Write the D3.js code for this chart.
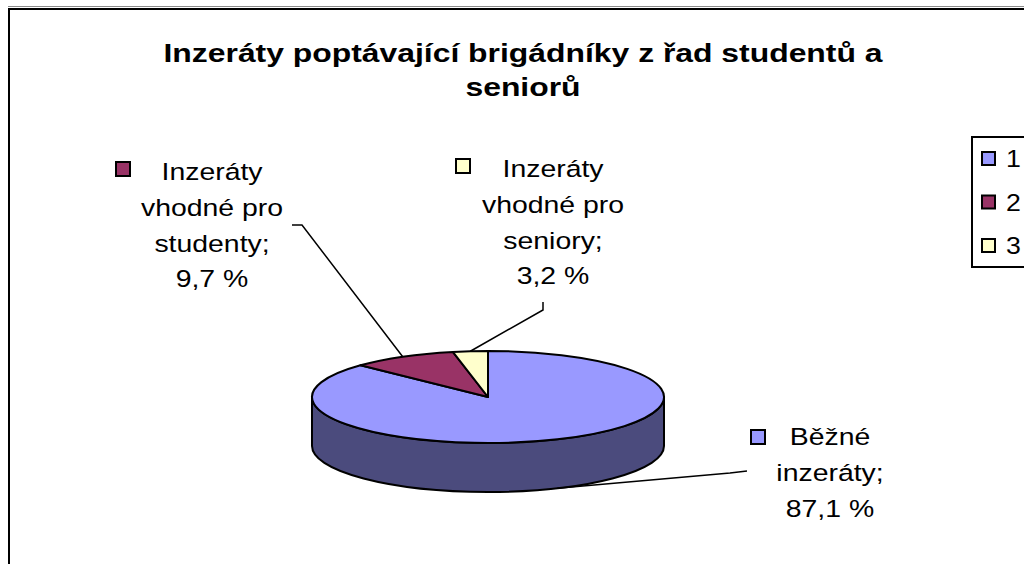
<!DOCTYPE html>
<html>
<head>
<meta charset="utf-8">
<script src="https://cdn.jsdelivr.net/npm/d3@7"></script>
<style>
  body { margin: 0; background: #fff; }
  text { font-family: "Liberation Sans", Arial, sans-serif; fill: #000; }
</style>
</head>
<body>
<div id="chart"></div>
<script>
// chart data
var titleLines = ["Inzeráty poptávající brigádníky z řad studentů a", "seniorů"];
var categoryLines = [["Běžné", "inzeráty;"], ["Inzeráty", "vhodné pro", "studenty;"], ["Inzeráty", "vhodné pro", "seniory;"]];
var values = [87.1, 9.7, 3.2];
var legendLabels = ["1", "2", "3"];
var colors = ["#9999FF", "#993366", "#FFFFCC"];

var width = 1024, height = 564;

// pie geometry (Excel style tilted disc)
var cx = 488, cy = 397, rx = 176, ry = 46, depth = 49;

// where Excel put the data labels (label centre, first baseline, key box, leader elbow)
var labelPos = [
  { x: 830, y: 445, key: [751, 430], leader: [[730, 473], [747, 471]] },
  { x: 212, y: 180, key: [116, 162], leader: [[302, 225], [292, 225]] },
  { x: 553, y: 177, key: [456, 159], leader: [[543, 310], [543, 302]] }
];

var svg = d3.select("#chart")
  .append("svg")
    .attr("width", width)
    .attr("height", height);

// frame
svg.append("line")
    .attr("x1", 8).attr("x2", width)
    .attr("y1", 6.5).attr("y2", 6.5)
    .style("stroke", "#8a8a8a")
    .style("stroke-width", 1);
svg.append("rect")
    .attr("x", 9).attr("y", 9)
    .attr("width", width + 20).attr("height", height + 20)
    .style("fill", "none")
    .style("stroke", "#000")
    .style("stroke-width", 2);

// title
svg.append("g")
  .selectAll("text")
  .data(titleLines)
  .enter()
  .append("text")
    .attr("transform", function(d, i) { return "translate(523," + (62 + i * 34) + ") scale(1.25,1)"; })
    .attr("text-anchor", "middle")
    .style("font-size", "25.5px")
    .style("font-weight", "bold")
    .text(function(d) { return d; });

var pie = d3.pie().sort(null).value(function(d) { return d; });
var arcs = pie(values);

function pt(a, dy) {
  return [cx + rx * Math.sin(a), cy - ry * Math.cos(a) + (dy || 0)];
}

// side wall, only the front half is visible
var wall = svg.append("g");
arcs.forEach(function(d, i) {
  var a0 = Math.max(d.startAngle, Math.PI / 2),
      a1 = Math.min(d.endAngle, 3 * Math.PI / 2);
  if (a0 >= a1) return;
  var p0 = pt(a0), p1 = pt(a1), q1 = pt(a1, depth), q0 = pt(a0, depth);
  var path = "M" + p0 + "A" + rx + "," + ry + " 0 0 1 " + p1 +
             "L" + q1 + "A" + rx + "," + ry + " 0 0 0 " + q0 + "Z";
  wall.append("path")
      .attr("d", path)
      .style("fill", d3.color(colors[i]).darker(2))
      .style("stroke", "#000")
      .style("stroke-width", 2)
      .style("stroke-linejoin", "round");
});

// top face
svg.append("g")
  .selectAll("path")
  .data(arcs)
  .enter()
  .append("path")
    .attr("d", function(d) {
      var p0 = pt(d.startAngle), p1 = pt(d.endAngle);
      var large = d.endAngle - d.startAngle > Math.PI ? 1 : 0;
      return "M" + cx + "," + cy + "L" + p0 + "A" + rx + "," + ry + " 0 " + large + " 1 " + p1 + "Z";
    })
    .style("fill", function(d, i) { return colors[i]; })
    .style("stroke", "#000")
    .style("stroke-width", 2)
    .style("stroke-linejoin", "round");

// leader lines from slice middle to label
var line = d3.line();
arcs.forEach(function(d, i) {
  var mid = (d.startAngle + d.endAngle) / 2;
  var front = Math.cos(mid) < 0;
  var start = pt(mid, front ? depth : 0);
  svg.append("path")
      .attr("d", line([start].concat(labelPos[i].leader)))
      .style("fill", "none")
      .style("stroke", "#000")
      .style("stroke-width", 1.5);
});

// data labels
var fmt = d3.format(".1f");
arcs.forEach(function(d, i) {
  var lp = labelPos[i];
  var lines = categoryLines[i].concat([fmt(values[i]).replace(".", ",") + " %"]);
  var g = svg.append("g");
  g.selectAll("text")
    .data(lines)
    .enter()
    .append("text")
      .attr("transform", function(t, j) { return "translate(" + lp.x + "," + (lp.y + j * 35.8) + ") scale(1.16,1)"; })
      .attr("text-anchor", "middle")
      .style("font-size", "24.5px")
      .text(function(t) { return t; });
  g.append("rect")
      .attr("x", lp.key[0]).attr("y", lp.key[1])
      .attr("width", 14).attr("height", 14)
      .style("fill", colors[i])
      .style("stroke", "#000")
      .style("stroke-width", 2);
});

// legend
var legend = svg.append("g");
legend.append("rect")
    .attr("x", 972).attr("y", 137)
    .attr("width", 80).attr("height", 130)
    .style("fill", "#fff")
    .style("stroke", "#000")
    .style("stroke-width", 2);
var item = legend.selectAll("g.item")
  .data(legendLabels)
  .enter()
  .append("g")
    .attr("class", "item")
    .attr("transform", function(d, i) { return "translate(982," + (152 + i * 43.5) + ")"; });
item.append("rect")
    .attr("width", 13).attr("height", 13)
    .style("fill", function(d, i) { return colors[i]; })
    .style("stroke", "#000")
    .style("stroke-width", 2);
item.append("text")
    .attr("transform", "translate(24,15) scale(1.16,1)")
    .style("font-size", "23px")
    .text(function(d) { return d; });
</script>
</body>
</html>
